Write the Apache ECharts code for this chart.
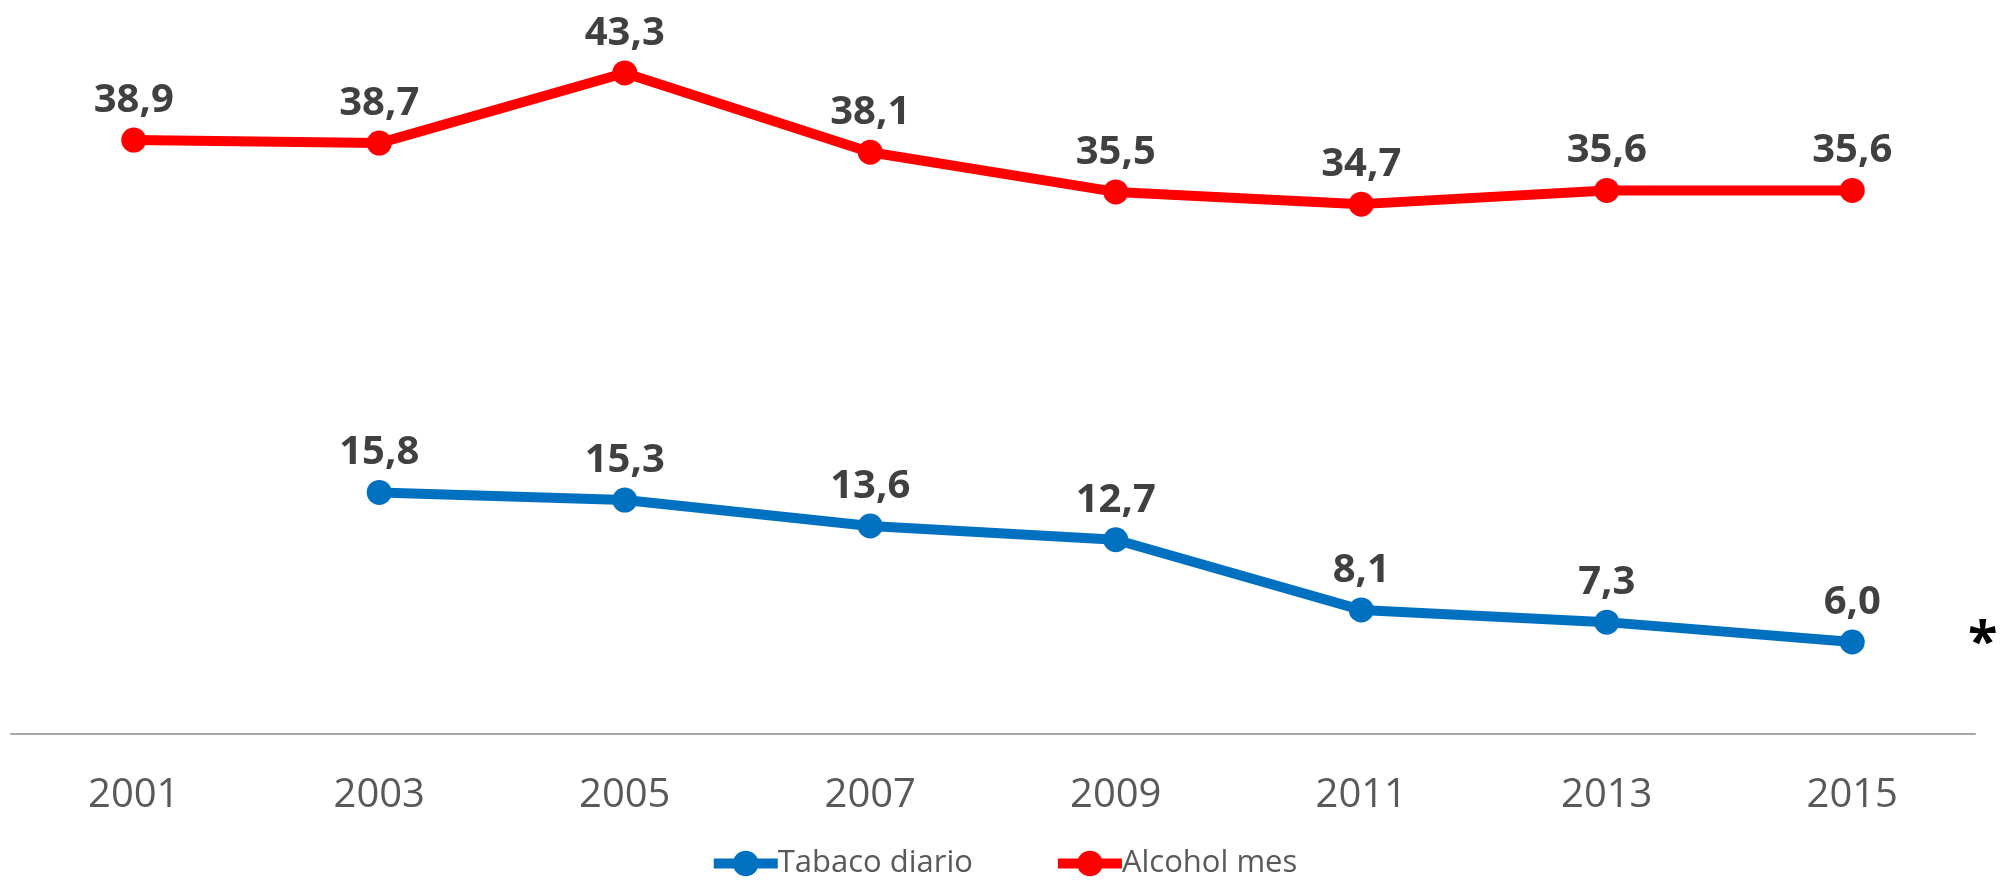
<!DOCTYPE html>
<html>
<head>
<meta charset="utf-8">
<style>html,body{margin:0;padding:0;background:#fff}#c{width:2006px;height:884px}</style>
<script src="https://cdn.jsdelivr.net/npm/echarts@6/dist/echarts.min.js"></script>
</head>
<body>
<div id="c"></div>
<script>
var categories = ['2001','2003','2005','2007','2009','2011','2013','2015'];
var tabacoDiario = [null, 15.8, 15.3, 13.6, 12.7, 8.1, 7.3, 6.0];
var alcoholMes = [38.9, 38.7, 43.3, 38.1, 35.5, 34.7, 35.6, 35.6];
var seriesNames = ['Tabaco diario', 'Alcohol mes'];

var chart = echarts.init(document.getElementById('c'), null, {renderer: 'canvas'});
function fmt(p){ return p.value == null ? '' : p.value.toFixed(1).replace('.', ','); }
function mkSeries(name, data, color){
  return {
    name: name, type: 'line', data: data,
    symbol: 'circle', symbolSize: 25,
    lineStyle: {color: color, width: 10},
    itemStyle: {color: color},
    connectNulls: false,
    label: {show: true, position: 'top', distance: 7, formatter: fmt,
      color: '#404040', fontFamily: 'Open Sans', fontWeight: 'bold', fontSize: 40},
    emphasis: {disabled: true},
    animation: false
  };
}
chart.setOption({
  animation: false,
  grid: {left: 11, right: 31, top: 47, bottom: 150.5, containLabel: false},
  legend: {
    bottom: 0, left: 'center', itemWidth: 64, itemHeight: 32, itemGap: 80,
    lineStyle: {width: 10},
    textStyle: {fontFamily: 'Open Sans', fontSize: 31, color: '#595959', padding: [0,0,0,-5]},
    data: seriesNames
  },
  xAxis: {
    type: 'category', data: categories, boundaryGap: true,
    axisLine: {lineStyle: {color: '#a6a6a6', width: 2}},
    axisTick: {show: false},
    axisLabel: {margin: 42, fontFamily: 'Open Sans', fontSize: 40, color: '#595959'}
  },
  yAxis: {
    type: 'value', min: 0, max: 45, show: false, splitLine: {show: false}
  },
  graphic: [{
    type: 'text', left: 1968, top: 618,
    style: {text: '*', fontFamily: 'Open Sans', fontWeight: 'bold', fontSize: 54, fill: '#000'}
  }],
  series: [
    mkSeries(seriesNames[0], tabacoDiario, '#0070C0'),
    mkSeries(seriesNames[1], alcoholMes, '#FF0000')
  ]
});
</script>
</body>
</html>
